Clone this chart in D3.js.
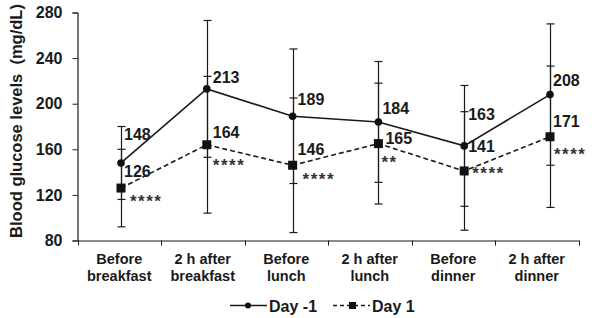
<!DOCTYPE html>
<html>
<head>
<meta charset="utf-8">
<script src="https://cdn.jsdelivr.net/npm/d3@7"></script>
<style>
  body { margin: 0; background: #fff; }
  text { font-family: "Liberation Sans", Arial, sans-serif; font-weight: bold; fill: #1a1a1a; }
</style>
</head>
<body>
<div id="chart"></div>
<script>
const categories = [
  ["Before", "breakfast"], ["2 h after", "breakfast"], ["Before", "lunch"],
  ["2 h after", "lunch"], ["Before", "dinner"], ["2 h after", "dinner"]
];
const dayMinus1 = [148, 213, 189, 184, 163, 208];
const dayMinus1Sd = [32, 60, 59, 53, 53, 62];
const day1 = [126, 164, 146, 165, 141, 171];
const day1Sd = [34, 60, 59, 53, 52, 62];
const stars = ["****", "****", "****", "**", "****", "****"];
const yTicks = [80, 120, 160, 200, 240, 280];
const seriesNames = ["Day -1", "Day 1"];

// label nudges (px) relative to each point
const labelOffA = [[3, -23], [6, -6], [5, -11], [4, -8], [4, -26], [3, -9]];
const labelOffB = [[3, -11], [6, -7], [5, -10], [7, 0], [4, -19], [3, -10]];
const starOff = [[9, 9], [6, 16], [10, 10], [3, 14], [8, -2], [4, 13]];

const W = 597, H = 318;
const svg = d3.select("#chart").append("svg")
  .attr("width", W).attr("height", H);

const keys = categories.map((c, i) => i);
const xBand = d3.scaleBand().domain(keys).range([77.5, 578.5]);
const x = d3.scalePoint().domain(keys).range([121, 550]);
const y = d3.scaleLinear().domain([80, 280]).range([240.5, 12.5]);

// axes
const yAxis = svg.append("g")
  .attr("transform", "translate(77.5,0)")
  .call(d3.axisLeft(y).tickValues(yTicks).tickSize(5).tickPadding(10));
yAxis.selectAll("text").style("font-size", "16px");

const xAxis = svg.append("g")
  .attr("transform", "translate(0,240.5)")
  .call(d3.axisBottom(xBand).tickSize(0).tickFormat(""));
xAxis.selectAll(".tick").remove();
xAxis.selectAll(".xt")
  .data(d3.range(categories.length + 1))
  .enter().append("line")
  .attr("x1", i => Math.round(xBand(0) + i * xBand.bandwidth()) + 0.5)
  .attr("x2", i => Math.round(xBand(0) + i * xBand.bandwidth()) + 0.5)
  .attr("y1", 0).attr("y2", 5)
  .attr("stroke", "#1a1a1a");
svg.selectAll(".domain").attr("stroke", "#1a1a1a").attr("stroke-width", 1.2);
svg.selectAll(".tick line").attr("stroke", "#1a1a1a");

const catText = svg.append("g").selectAll("text")
  .data(categories)
  .enter().append("text")
  .attr("text-anchor", "middle")
  .style("font-size", "14.5px");
catText.append("tspan")
  .attr("x", (d, i) => xBand(i) + xBand.bandwidth() / 2)
  .attr("y", 264)
  .text(d => d[0]);
catText.append("tspan")
  .attr("x", (d, i) => xBand(i) + xBand.bandwidth() / 2)
  .attr("y", 281)
  .text(d => d[1]);

svg.append("text")
  .attr("transform", "translate(22,121) rotate(-90)")
  .attr("text-anchor", "middle")
  .style("font-size", "16.5px")
  .style("white-space", "pre")
  .text("Blood glucose levels  (mg/dL)");

// error bars
function errorBars(vals, sds) {
  const g = svg.append("g").attr("stroke", "#1a1a1a").attr("stroke-width", 1.2);
  vals.forEach((v, i) => {
    const cx = Math.round(x(i)) + 0.5;
    g.append("line").attr("x1", cx).attr("x2", cx)
      .attr("y1", y(v + sds[i])).attr("y2", y(v - sds[i]));
    [v + sds[i], v - sds[i]].forEach(e => {
      g.append("line").attr("x1", cx - 4).attr("x2", cx + 4)
        .attr("y1", y(e)).attr("y2", y(e));
    });
  });
}
errorBars(dayMinus1, dayMinus1Sd);
errorBars(day1, day1Sd);

const line = d3.line().x((d, i) => x(i)).y(d => y(d));

svg.append("path").datum(day1)
  .attr("d", line).attr("fill", "none")
  .attr("stroke", "#1a1a1a").attr("stroke-width", 1.6)
  .attr("stroke-dasharray", "5,3");
svg.append("path").datum(dayMinus1)
  .attr("d", line).attr("fill", "none")
  .attr("stroke", "#1a1a1a").attr("stroke-width", 1.6);

svg.selectAll(".dotA").data(dayMinus1).enter().append("circle")
  .attr("cx", (d, i) => x(i)).attr("cy", d => y(d)).attr("r", 3.8)
  .attr("fill", "#111");
svg.selectAll(".dotB").data(day1).enter().append("rect")
  .attr("x", (d, i) => x(i) - 4.5).attr("y", d => y(d) - 4.5)
  .attr("width", 9).attr("height", 9)
  .attr("fill", "#111");

// value labels
svg.selectAll(".labA").data(dayMinus1).enter().append("text")
  .attr("x", (d, i) => x(i) + labelOffA[i][0])
  .attr("y", (d, i) => y(d) + labelOffA[i][1])
  .style("font-size", "16px")
  .text(d => d);
svg.selectAll(".labB").data(day1).enter().append("text")
  .attr("x", (d, i) => x(i) + labelOffB[i][0])
  .attr("y", (d, i) => y(d) + labelOffB[i][1])
  .style("font-size", "16px")
  .text(d => d);
svg.selectAll(".stars").data(day1).enter().append("text")
  .attr("x", (d, i) => x(i) + starOff[i][0])
  .attr("y", (d, i) => y(d) + starOff[i][1] + 10)
  .style("font-size", "17px")
  .style("letter-spacing", "1.5px")
  .style("fill", "#333")
  .text((d, i) => stars[i]);

// legend
const legend = svg.append("g").attr("transform", "translate(230,305.5)");
const items = legend.selectAll("g").data(seriesNames).enter().append("g")
  .attr("transform", (d, i) => `translate(${i * 103},0)`);
items.append("line")
  .attr("x1", 0).attr("x2", 37).attr("y1", 0).attr("y2", 0)
  .attr("stroke", "#1a1a1a").attr("stroke-width", 1.6)
  .attr("stroke-dasharray", (d, i) => i ? "4,3" : null);
items.each(function(d, i) {
  const g = d3.select(this);
  if (i === 0) g.append("circle").attr("cx", 18).attr("cy", 0).attr("r", 3).attr("fill", "#111");
  else g.append("rect").attr("x", 16).attr("y", -3.5).attr("width", 7).attr("height", 7).attr("fill", "#111");
});
items.append("text")
  .attr("x", 39).attr("y", 6)
  .style("font-size", "16px")
  .text(d => d);
</script>
</body>
</html>
